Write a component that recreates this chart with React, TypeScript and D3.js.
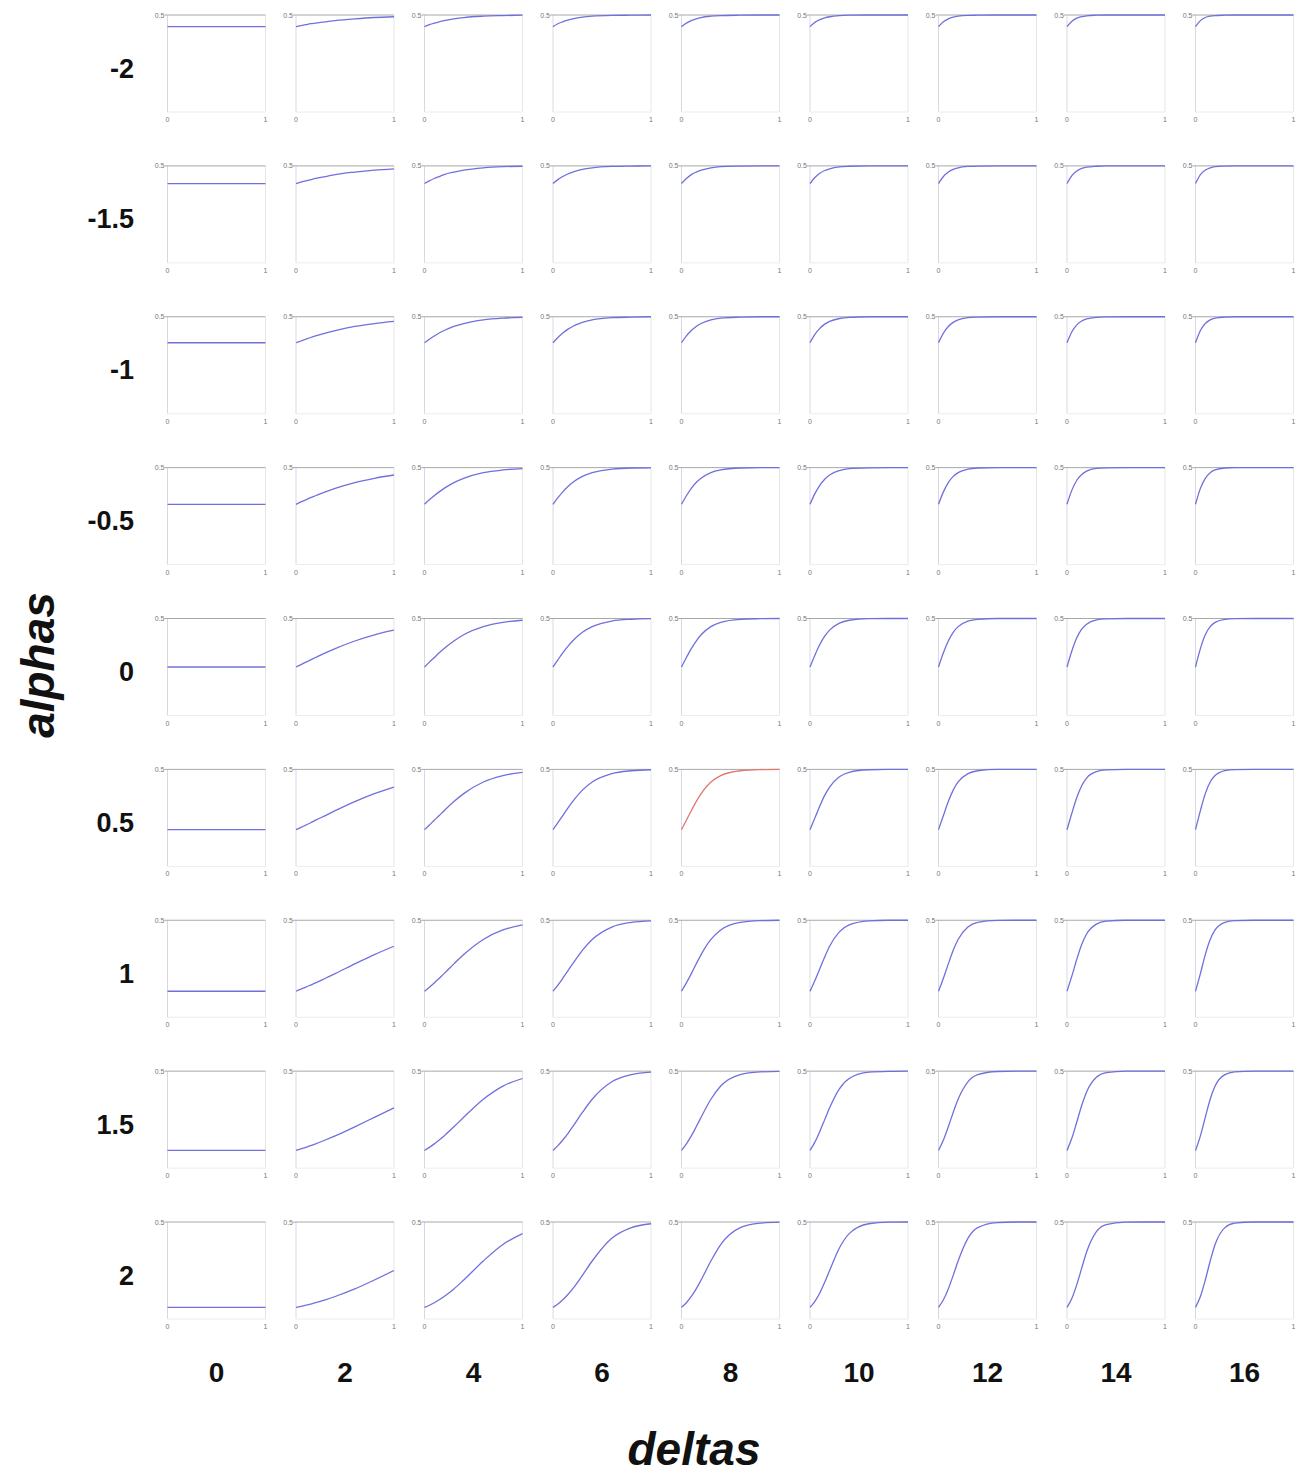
import React from 'react';
import * as d3 from 'd3';

// column and row headings
const deltas = [0, 2, 4, 6, 8, 10, 12, 14, 16];
const alphas = [-2, -1.5, -1, -0.5, 0, 0.5, 1, 1.5, 2];

// sample positions along the x axis of every small panel
const xs = [0, 0.05, 0.1, 0.15, 0.2, 0.3, 0.4, 0.6, 0.8, 1];

// one array per alpha row, one series per delta column
const alphaM2 = [
  [0.44, 0.44, 0.44, 0.44, 0.44, 0.44, 0.44, 0.44, 0.44, 0.44],
  [0.44, 0.445, 0.45, 0.455, 0.458, 0.465, 0.471, 0.48, 0.487, 0.491],
  [0.44, 0.45, 0.458, 0.465, 0.471, 0.48, 0.487, 0.494, 0.497, 0.499],
  [0.44, 0.455, 0.465, 0.474, 0.48, 0.489, 0.494, 0.498, 0.499, 0.5],
  [0.44, 0.458, 0.471, 0.48, 0.487, 0.494, 0.497, 0.499, 0.5, 0.5],
  [0.44, 0.462, 0.476, 0.485, 0.491, 0.497, 0.499, 0.5, 0.5, 0.5],
  [0.44, 0.465, 0.48, 0.489, 0.494, 0.498, 0.499, 0.5, 0.5, 0.5],
  [0.44, 0.468, 0.484, 0.492, 0.496, 0.499, 0.5, 0.5, 0.5, 0.5],
  [0.44, 0.471, 0.487, 0.494, 0.497, 0.499, 0.5, 0.5, 0.5, 0.5],
];
const alphaM15 = [
  [0.409, 0.409, 0.409, 0.409, 0.409, 0.409, 0.409, 0.409, 0.409, 0.409],
  [0.409, 0.416, 0.423, 0.429, 0.435, 0.445, 0.455, 0.468, 0.478, 0.485],
  [0.409, 0.423, 0.435, 0.445, 0.455, 0.468, 0.478, 0.49, 0.496, 0.498],
  [0.409, 0.429, 0.445, 0.458, 0.468, 0.482, 0.49, 0.497, 0.499, 0.5],
  [0.409, 0.435, 0.455, 0.468, 0.478, 0.49, 0.496, 0.499, 0.5, 0.5],
  [0.409, 0.44, 0.462, 0.476, 0.485, 0.495, 0.498, 0.5, 0.5, 0.5],
  [0.409, 0.445, 0.468, 0.482, 0.49, 0.497, 0.499, 0.5, 0.5, 0.5],
  [0.409, 0.45, 0.474, 0.487, 0.493, 0.498, 0.5, 0.5, 0.5, 0.5],
  [0.409, 0.455, 0.478, 0.49, 0.496, 0.499, 0.5, 0.5, 0.5, 0.5],
];
const alphaM1 = [
  [0.366, 0.366, 0.366, 0.366, 0.366, 0.366, 0.366, 0.366, 0.366, 0.366],
  [0.366, 0.375, 0.384, 0.393, 0.401, 0.416, 0.429, 0.45, 0.465, 0.476],
  [0.366, 0.384, 0.401, 0.416, 0.429, 0.45, 0.465, 0.484, 0.493, 0.497],
  [0.366, 0.393, 0.416, 0.435, 0.45, 0.471, 0.484, 0.495, 0.498, 0.5],
  [0.366, 0.401, 0.429, 0.45, 0.465, 0.484, 0.493, 0.498, 0.5, 0.5],
  [0.366, 0.409, 0.44, 0.462, 0.476, 0.491, 0.497, 0.5, 0.5, 0.5],
  [0.366, 0.416, 0.45, 0.471, 0.484, 0.495, 0.498, 0.5, 0.5, 0.5],
  [0.366, 0.423, 0.458, 0.478, 0.489, 0.497, 0.499, 0.5, 0.5, 0.5],
  [0.366, 0.429, 0.465, 0.484, 0.493, 0.498, 0.5, 0.5, 0.5, 0.5],
];
const alphaM05 = [
  [0.311, 0.311, 0.311, 0.311, 0.311, 0.311, 0.311, 0.311, 0.311, 0.311],
  [0.311, 0.323, 0.334, 0.345, 0.355, 0.375, 0.393, 0.423, 0.445, 0.462],
  [0.311, 0.334, 0.355, 0.375, 0.393, 0.423, 0.445, 0.474, 0.488, 0.495],
  [0.311, 0.345, 0.375, 0.401, 0.423, 0.455, 0.474, 0.492, 0.498, 0.499],
  [0.311, 0.355, 0.393, 0.423, 0.445, 0.474, 0.488, 0.498, 0.5, 0.5],
  [0.311, 0.366, 0.409, 0.44, 0.462, 0.485, 0.495, 0.499, 0.5, 0.5],
  [0.311, 0.375, 0.423, 0.455, 0.474, 0.492, 0.498, 0.5, 0.5, 0.5],
  [0.311, 0.384, 0.435, 0.465, 0.482, 0.496, 0.499, 0.5, 0.5, 0.5],
  [0.311, 0.393, 0.445, 0.474, 0.488, 0.498, 0.5, 0.5, 0.5, 0.5],
];
const alpha0 = [
  [0.25, 0.25, 0.25, 0.25, 0.25, 0.25, 0.25, 0.25, 0.25, 0.25],
  [0.25, 0.262, 0.275, 0.287, 0.299, 0.323, 0.345, 0.384, 0.416, 0.44],
  [0.25, 0.275, 0.299, 0.323, 0.345, 0.384, 0.416, 0.458, 0.48, 0.491],
  [0.25, 0.287, 0.323, 0.355, 0.384, 0.429, 0.458, 0.487, 0.496, 0.499],
  [0.25, 0.299, 0.345, 0.384, 0.416, 0.458, 0.48, 0.496, 0.499, 0.5],
  [0.25, 0.311, 0.366, 0.409, 0.44, 0.476, 0.491, 0.499, 0.5, 0.5],
  [0.25, 0.323, 0.384, 0.429, 0.458, 0.487, 0.496, 0.5, 0.5, 0.5],
  [0.25, 0.334, 0.401, 0.445, 0.471, 0.493, 0.498, 0.5, 0.5, 0.5],
  [0.25, 0.345, 0.416, 0.458, 0.48, 0.496, 0.499, 0.5, 0.5, 0.5],
];
const alphaP05 = [
  [0.189, 0.189, 0.189, 0.189, 0.189, 0.189, 0.189, 0.189, 0.189, 0.189],
  [0.189, 0.201, 0.213, 0.225, 0.238, 0.262, 0.287, 0.334, 0.375, 0.409],
  [0.189, 0.213, 0.238, 0.262, 0.287, 0.334, 0.375, 0.435, 0.468, 0.485],
  [0.189, 0.225, 0.262, 0.299, 0.334, 0.393, 0.435, 0.478, 0.493, 0.498],
  [0.189, 0.238, 0.287, 0.334, 0.375, 0.435, 0.468, 0.493, 0.499, 0.5],
  [0.189, 0.25, 0.311, 0.366, 0.409, 0.462, 0.485, 0.498, 0.5, 0.5],
  [0.189, 0.262, 0.334, 0.393, 0.435, 0.478, 0.493, 0.5, 0.5, 0.5],
  [0.189, 0.275, 0.355, 0.416, 0.455, 0.488, 0.497, 0.5, 0.5, 0.5],
  [0.189, 0.287, 0.375, 0.435, 0.468, 0.493, 0.499, 0.5, 0.5, 0.5],
];
const alphaP1 = [
  [0.134, 0.134, 0.134, 0.134, 0.134, 0.134, 0.134, 0.134, 0.134, 0.134],
  [0.134, 0.145, 0.155, 0.166, 0.177, 0.201, 0.225, 0.275, 0.323, 0.366],
  [0.134, 0.155, 0.177, 0.201, 0.225, 0.275, 0.323, 0.401, 0.45, 0.476],
  [0.134, 0.166, 0.201, 0.238, 0.275, 0.345, 0.401, 0.465, 0.489, 0.497],
  [0.134, 0.177, 0.225, 0.275, 0.323, 0.401, 0.45, 0.489, 0.498, 0.5],
  [0.134, 0.189, 0.25, 0.311, 0.366, 0.44, 0.476, 0.497, 0.5, 0.5],
  [0.134, 0.201, 0.275, 0.345, 0.401, 0.465, 0.489, 0.499, 0.5, 0.5],
  [0.134, 0.213, 0.299, 0.375, 0.429, 0.48, 0.495, 0.5, 0.5, 0.5],
  [0.134, 0.225, 0.323, 0.401, 0.45, 0.489, 0.498, 0.5, 0.5, 0.5],
];
const alphaP15 = [
  [0.091, 0.091, 0.091, 0.091, 0.091, 0.091, 0.091, 0.091, 0.091, 0.091],
  [0.091, 0.099, 0.107, 0.116, 0.125, 0.145, 0.166, 0.213, 0.262, 0.311],
  [0.091, 0.107, 0.125, 0.145, 0.166, 0.213, 0.262, 0.355, 0.423, 0.462],
  [0.091, 0.116, 0.145, 0.177, 0.213, 0.287, 0.355, 0.445, 0.482, 0.495],
  [0.091, 0.125, 0.166, 0.213, 0.262, 0.355, 0.423, 0.482, 0.496, 0.499],
  [0.091, 0.134, 0.189, 0.25, 0.311, 0.409, 0.462, 0.495, 0.499, 0.5],
  [0.091, 0.145, 0.213, 0.287, 0.355, 0.445, 0.482, 0.498, 0.5, 0.5],
  [0.091, 0.155, 0.238, 0.323, 0.393, 0.468, 0.492, 0.5, 0.5, 0.5],
  [0.091, 0.166, 0.262, 0.355, 0.423, 0.482, 0.496, 0.5, 0.5, 0.5],
];
const alphaP2 = [
  [0.06, 0.06, 0.06, 0.06, 0.06, 0.06, 0.06, 0.06, 0.06, 0.06],
  [0.06, 0.065, 0.071, 0.077, 0.084, 0.099, 0.116, 0.155, 0.201, 0.25],
  [0.06, 0.071, 0.084, 0.099, 0.116, 0.155, 0.201, 0.299, 0.384, 0.44],
  [0.06, 0.077, 0.099, 0.125, 0.155, 0.225, 0.299, 0.416, 0.471, 0.491],
  [0.06, 0.084, 0.116, 0.155, 0.201, 0.299, 0.384, 0.471, 0.494, 0.499],
  [0.06, 0.091, 0.134, 0.189, 0.25, 0.366, 0.44, 0.491, 0.499, 0.5],
  [0.06, 0.099, 0.155, 0.225, 0.299, 0.416, 0.471, 0.497, 0.5, 0.5],
  [0.06, 0.107, 0.177, 0.262, 0.345, 0.45, 0.487, 0.499, 0.5, 0.5],
  [0.06, 0.116, 0.201, 0.299, 0.384, 0.471, 0.494, 0.5, 0.5, 0.5],
];

const rows = [alphaM2, alphaM15, alphaM1, alphaM05, alpha0, alphaP05, alphaP1, alphaP15, alphaP2];

// the one panel drawn in red
const highlight = { alpha: 0.5, delta: 8 };

const width = 1301;
const height = 1474;
const cellW = 98;
const cellH = 97;

function App() {
  // panel placement
  const colScale = d3.scalePoint<number>().domain(deltas).range([167.5, 1195.5]);
  const rowScale = d3.scalePoint<number>().domain(alphas).range([15, 1222]);

  // inside one panel
  const x = d3.scaleLinear().domain([0, 1]).range([0, cellW]);
  const y = d3.scaleLinear().domain([0, 0.5]).range([cellH, 0]);

  const line = d3
    .line<number>()
    .x((d, i) => x(xs[i]))
    .y((d) => y(d))
    .curve(d3.curveMonotoneX);

  const tickFont = { fontFamily: 'Arial, "Liberation Sans", sans-serif', fontSize: 7, fill: '#777' };
  const bigFont = 'Arial, "Liberation Sans", sans-serif';

  return (
    <svg
      width={width}
      height={height}
      style={{ position: 'absolute', left: 0, top: 0, background: '#fff' }}
    >
      {alphas.map((a, r) =>
        deltas.map((dl, c) => {
          const series = rows[r][c];
          const isRed = a === highlight.alpha && dl === highlight.delta;
          return (
            <g key={a + '_' + dl} transform={`translate(${colScale(dl)},${rowScale(a)})`}>
              {/* panel frame */}
              <line x1={x(0)} x2={x(0)} y1={y(0)} y2={y(0.5)} stroke="#d8d8e4" strokeWidth={1} />
              <line x1={x(1)} x2={x(1)} y1={y(0)} y2={y(0.5)} stroke="#e6e6e6" strokeWidth={1} />
              <line x1={x(0)} x2={x(1)} y1={y(0)} y2={y(0)} stroke="#ececec" strokeWidth={1} />
              <line x1={x(0) - 3} x2={x(1)} y1={y(0.5)} y2={y(0.5)} stroke="#a8a8a8" strokeWidth={1} />
              <path
                d={line(series) || ''}
                fill="none"
                stroke={isRed ? '#e0786c' : '#7070dc'}
                strokeWidth={1.3}
              />
              <text x={x(0) - 3} y={y(0.5) + 2.5} textAnchor="end" style={tickFont}>
                0.5
              </text>
              <text x={x(0)} y={cellH + 10} textAnchor="middle" style={tickFont}>
                0
              </text>
              <text x={x(1)} y={cellH + 10} textAnchor="middle" style={tickFont}>
                1
              </text>
            </g>
          );
        }),
      )}

      {/* alpha headings */}
      {alphas.map((a) => (
        <text
          key={'ra' + a}
          x={134}
          y={(rowScale(a) as number) + cellH / 2 + 14}
          textAnchor="end"
          fontFamily={bigFont}
          fontWeight="bold"
          fontSize={27}
          fill="#111"
        >
          {a}
        </text>
      ))}

      {/* delta headings */}
      {deltas.map((dl) => (
        <text
          key={'cd' + dl}
          x={(colScale(dl) as number) + cellW / 2}
          y={1382}
          textAnchor="middle"
          fontFamily={bigFont}
          fontWeight="bold"
          fontSize={28}
          fill="#111"
        >
          {dl}
        </text>
      ))}

      <text
        x={694}
        y={1465}
        textAnchor="middle"
        fontFamily={bigFont}
        fontWeight="bold"
        fontStyle="italic"
        fontSize={46}
        fill="#111"
      >
        deltas
      </text>
      <text
        transform="translate(54,665) rotate(-90)"
        textAnchor="middle"
        fontFamily={bigFont}
        fontWeight="bold"
        fontStyle="italic"
        fontSize={46}
        fill="#111"
      >
        alphas
      </text>
    </svg>
  );
}

export default App;
